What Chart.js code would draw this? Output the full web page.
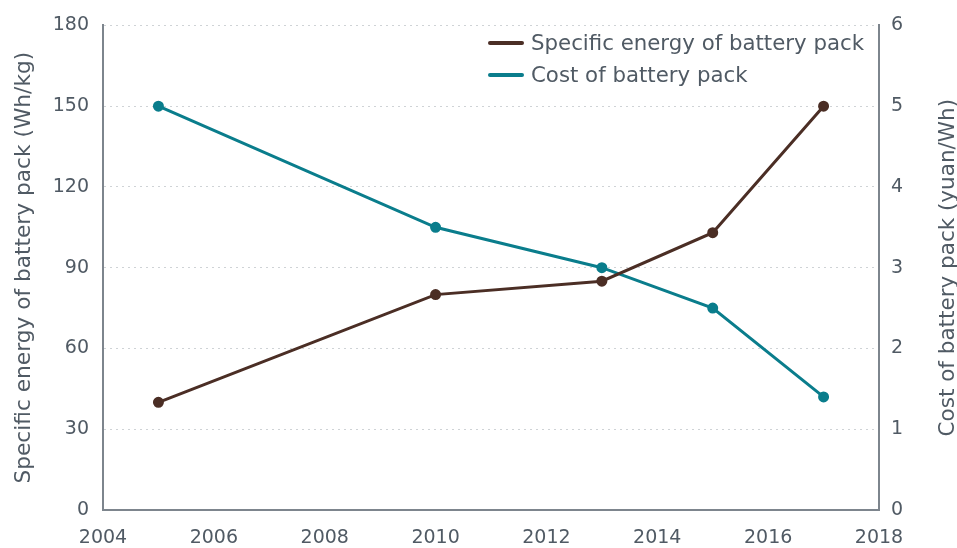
<!DOCTYPE html>
<html>
<head>
<meta charset="utf-8">
<script src="https://cdn.jsdelivr.net/npm/chart.js@4.4.1/dist/chart.umd.min.js"></script>
<style>
    html, body { margin: 0; padding: 0; background: #fff; }
    #wrap { width: 957px; height: 548px; }
</style>
</head>
<body>
<div id="wrap"><canvas id="batteryChart" width="957" height="548"></canvas></div>
<script>
const years = [2005, 2010, 2013, 2015, 2017];
const specificEnergy = [40, 80, 85, 103, 150];   // Wh/kg
const packCost = [5.0, 3.5, 3.0, 2.5, 1.4];      // yuan/Wh
const seriesLabels = ['Specific energy of battery pack', 'Cost of battery pack'];
const leftTitle = 'Specific energy of battery pack (Wh/kg)';
const rightTitle = 'Cost of battery pack (yuan/Wh)';

const textColor = '#505a64';
const axisColor = '#7d858d';
const fontFamily = "'DejaVu Sans', sans-serif";

// legend drawn inside the plot, top right, stacked
const innerLegend = {
    id: 'innerLegend',
    afterDatasetsDraw(chart) {
        const ctx = chart.ctx;
        ctx.save();
        ctx.font = '21.3px ' + fontFamily;
        ctx.textBaseline = 'middle';
        chart.data.datasets.forEach((ds, i) => {
            const y = 43 + i * 32;
            ctx.strokeStyle = ds.borderColor;
            ctx.lineWidth = 4;
            ctx.lineCap = 'round';
            ctx.beginPath();
            ctx.moveTo(490, y);
            ctx.lineTo(522, y);
            ctx.stroke();
            ctx.fillStyle = textColor;
            ctx.fillText(ds.label, 531, y + 1);
        });
        ctx.restore();
    }
};

// right axis title reads bottom-to-top like the left one
const rightAxisTitle = {
    id: 'rightAxisTitle',
    afterDraw(chart) {
        const area = chart.chartArea;
        const ctx = chart.ctx;
        ctx.save();
        ctx.translate(948, (area.top + area.bottom) / 2);
        ctx.rotate(-Math.PI / 2);
        ctx.font = '21.5px ' + fontFamily;
        ctx.fillStyle = textColor;
        ctx.textAlign = 'center';
        ctx.textBaseline = 'middle';
        ctx.fillText(rightTitle, 0, 0);
        ctx.restore();
    }
};

const ctx = document.getElementById('batteryChart').getContext('2d');

new Chart(ctx, {
    type: 'line',
    data: {
        datasets: [{
            label: seriesLabels[0],
            data: years.map((y, i) => ({ x: y, y: specificEnergy[i] })),
            borderColor: '#4b2e25',
            backgroundColor: '#4b2e25',
            borderWidth: 3,
            pointRadius: 4,
            yAxisID: 'y'
        }, {
            label: seriesLabels[1],
            data: years.map((y, i) => ({ x: y, y: packCost[i] })),
            borderColor: '#0a7d8c',
            backgroundColor: '#0a7d8c',
            borderWidth: 3,
            pointRadius: 4,
            yAxisID: 'y2'
        }]
    },
    options: {
        responsive: false,
        animation: false,
        layout: { padding: { top: 24, left: 0, right: 0, bottom: 0 } },
        plugins: {
            legend: { display: false },
            tooltip: { enabled: false }
        },
        scales: {
            x: {
                type: 'linear',
                min: 2004,
                max: 2018,
                ticks: {
                    stepSize: 2,
                    color: textColor,
                    font: { family: fontFamily, size: 19 },
                    padding: 17,
                    callback: v => String(v)
                },
                grid: { display: false, drawTicks: false },
                border: { display: true, color: axisColor, width: 2 },
                afterFit: s => { s.height = 38; }
            },
            y: {
                position: 'left',
                min: 0,
                max: 180,
                ticks: {
                    stepSize: 30,
                    color: textColor,
                    font: { family: fontFamily, size: 19 },
                    padding: 14
                },
                grid: { color: '#cfd3d6', lineWidth: 1, drawTicks: false },
                border: { display: true, color: axisColor, width: 2, dash: [2, 4] },
                title: {
                    display: true,
                    text: leftTitle,
                    color: textColor,
                    font: { family: fontFamily, size: 21.7, lineHeight: 1 },
                    padding: { top: 14, bottom: 0 }
                },
                afterFit: s => { s.width = 103; }
            },
            y2: {
                position: 'right',
                min: 0,
                max: 6,
                ticks: {
                    stepSize: 1,
                    color: textColor,
                    font: { family: fontFamily, size: 19 },
                    padding: 12
                },
                grid: { display: false, drawTicks: false },
                border: { display: true, color: axisColor, width: 2 },
                afterFit: s => { s.width = 78; }
            }
        }
    },
    plugins: [innerLegend, rightAxisTitle]
});
</script>
</body>
</html>
